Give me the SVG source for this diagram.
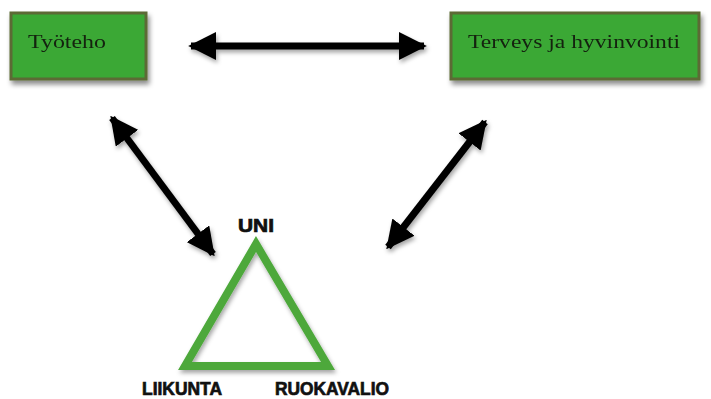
<svg xmlns="http://www.w3.org/2000/svg" width="711" height="399" viewBox="0 0 711 399">
<defs>
<filter id="sh" x="-20%" y="-20%" width="140%" height="160%">
<feDropShadow dx="2" dy="4" stdDeviation="2.5" flood-color="#000" flood-opacity="0.45"/>
</filter>
<filter id="ash" x="-20%" y="-20%" width="140%" height="140%">
<feDropShadow dx="1.5" dy="3" stdDeviation="2" flood-color="#000" flood-opacity="0.35"/>
</filter>
<marker id="ah" viewBox="0 0 10 10" refX="9" refY="5" markerWidth="4" markerHeight="4" orient="auto-start-reverse" markerUnits="strokeWidth">
<path d="M0,0 L10,5 L0,10 Z" fill="#000"/>
</marker>
<style>
.box{fill:#3aa835;stroke:#5b6a34;stroke-width:3}
.bt{font-family:"Liberation Serif","DejaVu Serif",serif;font-size:18.5px;fill:#132010}
.lbl{font-family:"Liberation Sans",Arial,sans-serif;font-weight:bold;font-size:18px;fill:#111;stroke:#111;stroke-width:0.7}
.conn{stroke:#000;stroke-width:7;fill:none;marker-start:url(#ah);marker-end:url(#ah)}
</style>
</defs>
<rect width="711" height="399" fill="#fff"/>
<g id="tyoteho" filter="url(#sh)">
<rect class="box" x="11" y="13" width="135" height="66"/>
<text class="bt" x="28" y="48" textLength="78" lengthAdjust="spacingAndGlyphs">Työteho</text>
</g>
<g id="terveys" filter="url(#sh)">
<rect class="box" x="451" y="13" width="248" height="66"/>
<text class="bt" x="468" y="48" textLength="212" lengthAdjust="spacingAndGlyphs">Terveys ja hyvinvointi</text>
</g>
<g id="kolmio">
<polygon points="256,244 185,366 328,366" fill="none" stroke="#4da83a" stroke-width="8" stroke-linejoin="miter" filter="url(#ash)"/>
<text class="lbl" x="256" y="232" text-anchor="middle" textLength="36" lengthAdjust="spacingAndGlyphs">UNI</text>
<text class="lbl" x="142" y="395" textLength="80" lengthAdjust="spacingAndGlyphs">LIIKUNTA</text>
<text class="lbl" x="275" y="395" textLength="114" lengthAdjust="spacingAndGlyphs">RUOKAVALIO</text>
</g>
<g id="connectors" filter="url(#ash)">
<line class="conn" x1="191" y1="46" x2="424" y2="46"/>
<line class="conn" x1="112" y1="118" x2="213" y2="254"/>
<line class="conn" x1="485" y1="122" x2="388" y2="247"/>
</g>
</svg>
